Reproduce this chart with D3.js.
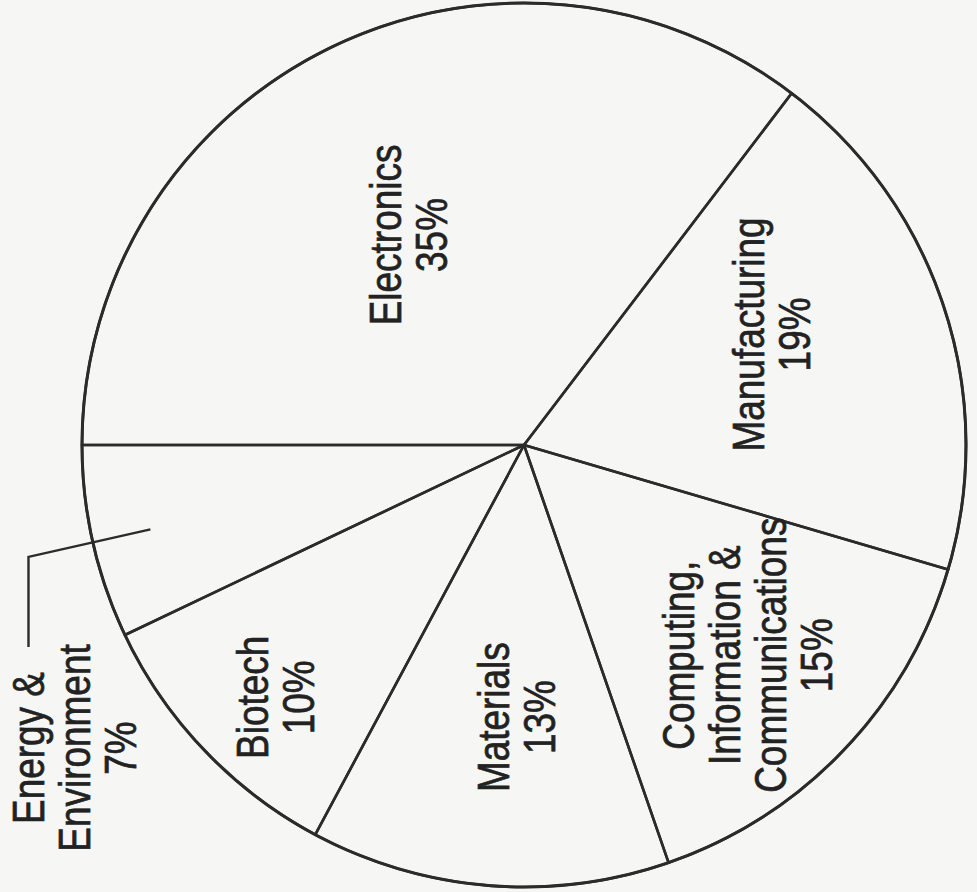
<!DOCTYPE html>
<html>
<head>
<meta charset="utf-8">
<script src="https://cdn.jsdelivr.net/npm/d3@7"></script>
<style>
  html, body { margin: 0; padding: 0; background: #f6f6f4; }
  #chart { width: 977px; height: 892px; }
  text { font-family: "Liberation Sans", Arial, sans-serif; fill: #222; stroke: #222; stroke-width: 0.7; }
</style>
</head>
<body>
<div id="chart"></div>
<script>
// slice data, in drawing order (clockwise from the left horizontal spoke)
let categories = ["Electronics", "Manufacturing", "Computing, Information & Communications", "Materials", "Biotech", "Energy & Environment"];
let shares = [35, 19, 15, 13, 10, 7];
let labelLines = [
    ["Electronics", "35%"],
    ["Manufacturing", "19%"],
    ["Computing,", "Information &", "Communications", "15%"],
    ["Materials", "13%"],
    ["Biotech", "10%"],
    ["Energy &", "Environment", "7%"]
];

let pc_width = 977, pc_height = 892;
let cx = 524, cy = 445, radius = 442;
let lineH = 46;

let pc_svg = d3.select("#chart").append("svg")
    .attr("width", pc_width)
    .attr("height", pc_height);

let g = pc_svg.append("g")
    .attr("transform", "translate(" + cx + "," + cy + ")");

// pie layout starting at the left (9 o'clock) going clockwise
let pie = d3.pie()
    .sort(null)
    .value(function (d) { return d; })
    .startAngle(-Math.PI / 2)
    .endAngle(3 * Math.PI / 2);

let arcs = pie(shares);

let arc = d3.arc().innerRadius(0).outerRadius(radius);

g.selectAll("path.slice")
    .data(arcs)
    .enter().append("path")
    .attr("class", "slice")
    .attr("d", arc)
    .attr("fill", "none")
    .attr("stroke", "#2b2b2b")
    .attr("stroke-width", 2.6)
    .attr("stroke-linejoin", "round");

// outer ring a bit heavier
g.append("circle")
    .attr("r", radius)
    .attr("fill", "none")
    .attr("stroke", "#2b2b2b")
    .attr("stroke-width", 3);

// label placement: radius of the centroid and a small nudge
let labelR = [240, 271, 309, 273, 354];
let nudge = [[-9, 5], [-10, -26], [0, -3], [14, 0], [8, 8]];

function polar(a, r) {
    return [Math.sin(a) * r, -Math.cos(a) * r];
}

// text is set sideways and a bit condensed, like the original
function drawLabel(lines, x, y) {
    let t = g.append("g")
        .attr("transform", "translate(" + x + "," + y + ") rotate(-90) scale(0.84,1)");
    let n = lines.length;
    lines.forEach(function (s, i) {
        t.append("text")
            .attr("x", 0)
            .attr("y", (i - (n - 1) / 2) * lineH)
            .attr("dy", "0.35em")
            .attr("text-anchor", "middle")
            .attr("font-size", 44)
            .text(s);
    });
}

arcs.forEach(function (d, i) {
    if (i >= labelR.length) return;
    let mid = (d.startAngle + d.endAngle) / 2;
    let p = polar(mid, labelR[i]);
    drawLabel(labelLines[i], p[0] + nudge[i][0], p[1] + nudge[i][1]);
});

// the small slice gets an outside label with a leader line
let last = arcs[arcs.length - 1];
let midE = (last.startAngle + last.endAngle) / 2;
let pIn = polar(midE, 383);
let pElbow = polar(midE, 508);
let leaderEndY = 202;

g.append("path")
    .attr("d", d3.line()([pIn, pElbow, [pElbow[0], leaderEndY]]))
    .attr("fill", "none")
    .attr("stroke", "#2b2b2b")
    .attr("stroke-width", 2.4);

drawLabel(labelLines[labelLines.length - 1], pElbow[0] + lineH, 303);
</script>
</body>
</html>
